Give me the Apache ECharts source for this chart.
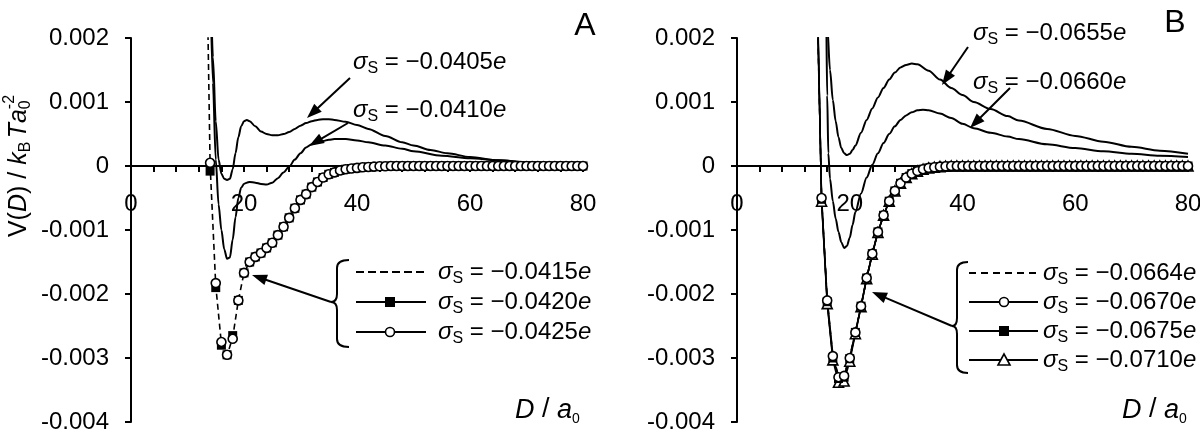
<!DOCTYPE html>
<html><head><meta charset="utf-8">
<script src="https://cdn.jsdelivr.net/npm/echarts@6/dist/echarts.min.js"></script>
<style>html,body{margin:0;padding:0;background:#fff}#c{width:1200px;height:432px}</style>
</head><body><div id="c"></div>
<script>
// ---------- axis / tick data ----------
const X_TICK_LABELS = [0, 20, 40, 60, 80];
const Y_TICK_VALUES = [-0.004, -0.003, -0.002, -0.001, 0, 0.001, 0.002];
const Y_TICK_LABELS = ['-0.004', '-0.003', '-0.002', '-0.001', '0', '0.001', '0.002'];

// ---------- Panel A : solid curves ----------
const A_D_0405 = [14, 14.5, 15, 15.5, 16, 16.5, 17, 17.5, 18, 18.5, 19, 19.5, 20, 20.5, 21, 22, 23, 24, 25, 26, 27, 28, 29, 30, 31, 32, 33, 34, 35, 36, 38, 40, 42, 45, 48, 50, 53, 56, 60, 65, 70, 75, 80];
const A_V_0405 = [0.0034, 0.0017, 0.0007, 0.0001, -0.00012, -0.0002, -0.00022, -0.0002, -0.00005, 0.0002, 0.00045, 0.00062, 0.0007, 0.00072, 0.0007, 0.00062, 0.00054, 0.0005, 0.00048, 0.00048, 0.0005, 0.00053, 0.00058, 0.00063, 0.00067, 0.0007, 0.00072, 0.00073, 0.00073, 0.00072, 0.00069, 0.00064, 0.00058, 0.00047, 0.00037, 0.00032, 0.00025, 0.0002, 0.00014, 0.00009, 0.00006, 0.00004, 0.00003];
const A_D_0410 = [14, 14.5, 15, 15.5, 16, 16.5, 17, 17.5, 18, 18.5, 19, 19.5, 20, 20.5, 21, 22, 23, 24, 25, 26, 27, 28, 29, 30, 31, 32, 33, 34, 35, 36, 38, 40, 42, 45, 48, 50, 55, 60, 65, 70, 75, 80];
const A_V_0410 = [0.003, 0.0013, 0.0001, -0.0006, -0.001, -0.0013, -0.00145, -0.00143, -0.00115, -0.0008, -0.0005, -0.00034, -0.00028, -0.00026, -0.00025, -0.00026, -0.00028, -0.00029, -0.00026, -0.00019, -0.0001, -0.00001, 0.0001, 0.0002, 0.00029, 0.00034, 0.00037, 0.00039, 0.00041, 0.00042, 0.00042, 0.0004, 0.00037, 0.00032, 0.00027, 0.00023, 0.00016, 0.00012, 0.00009, 0.00006, 0.00004, 0.00003];

// ---------- Panel A : point series, D = 13 ... 80 ----------
const A_D_PTS = Array.from({length: 68}, (_, i) => 13 + i);
const A_V_0415 = [0.0055, 0.00002, -0.00187, -0.00278, -0.00296, -0.00268, -0.0021, -0.00167, -0.0015, -0.00142,
  -0.00136, -0.00128, -0.0012, -0.00108, -0.00095, -0.00081, -0.00066, -0.00053, -0.00044, -0.00033,
  -0.00025, -0.00018, -0.00013, -0.0001, -0.00007, -0.00005, -0.00004, -0.00003, -0.00002, -0.000015,
  -0.00001, -0.000005, -0.000005, 0, 0, 0, 0, 0, 0, 0,
  0, 0, 0, 0, 0, 0, 0, 0, 0, 0,
  0, 0, 0, 0, 0, 0, 0, 0, 0, 0,
  0, 0, 0, 0, 0, 0, 0, 0];
const A_V_0420 = [0.006, -0.00008, -0.0019, -0.0028, -0.00295, -0.00265, -0.0021, -0.00167, -0.0015, -0.00142,
  -0.00136, -0.00128, -0.0012, -0.00108, -0.00095, -0.00081, -0.00066, -0.00053, -0.00044, -0.00033,
  -0.00025, -0.00018, -0.00013, -0.0001, -0.00007, -0.00005, -0.00004, -0.00003, -0.00002, -0.000015,
  -0.00001, -0.000005, -0.000005, 0, 0, 0, 0, 0, 0, 0,
  0, 0, 0, 0, 0, 0, 0, 0, 0, 0,
  0, 0, 0, 0, 0, 0, 0, 0, 0, 0,
  0, 0, 0, 0, 0, 0, 0, 0];
const A_V_0425 = [0.006, 0.00005, -0.00183, -0.00275, -0.00295, -0.0027, -0.0021, -0.00167, -0.0015, -0.00142,
  -0.00136, -0.00128, -0.0012, -0.00108, -0.00095, -0.00081, -0.00066, -0.00053, -0.00044, -0.00033,
  -0.00025, -0.00018, -0.00013, -0.0001, -0.00007, -0.00005, -0.00004, -0.00003, -0.00002, -0.000015,
  -0.00001, -0.000005, -0.000005, 0, 0, 0, 0, 0, 0, 0,
  0, 0, 0, 0, 0, 0, 0, 0, 0, 0,
  0, 0, 0, 0, 0, 0, 0, 0, 0, 0,
  0, 0, 0, 0, 0, 0, 0, 0];

// ---------- Panel B : solid curves ----------
const B_D_0655 = [15.5, 16, 16.5, 17, 17.5, 18, 18.5, 19, 19.5, 20, 20.5, 21, 22, 23, 24, 25, 26, 27, 28, 29, 30, 31, 32, 34, 36, 38, 40, 42, 45, 48, 50, 55, 60, 65, 70, 75, 80];
const B_V_0655 = [0.0032, 0.0022, 0.0015, 0.00103, 0.0007, 0.00045, 0.00028, 0.0002, 0.00017, 0.00019, 0.00025, 0.00032, 0.00052, 0.00072, 0.0009, 0.00107, 0.00122, 0.00135, 0.00146, 0.00154, 0.00158, 0.0016, 0.00159, 0.00149, 0.00135, 0.00122, 0.00111, 0.001, 0.00089, 0.00078, 0.00071, 0.00058, 0.00047, 0.00038, 0.0003, 0.00024, 0.00019];
const B_D_0660 = [15.5, 15.8, 16, 16.2, 16.5, 17, 17.5, 18, 18.5, 19, 19.5, 20, 20.5, 21, 22, 23, 24, 25, 26, 27, 28, 29, 30, 31, 32, 33, 34, 36, 38, 40, 42, 45, 48, 50, 55, 60, 65, 70, 75, 80];
const B_V_0660 = [0.0045, 0.0025, 0.0011, 0.0002, -0.0002, -0.00055, -0.00082, -0.00103, -0.00119, -0.00128, -0.00125, -0.00112, -0.00092, -0.00072, -0.00043, -0.00018, 0.00002, 0.0002, 0.00036, 0.0005, 0.00062, 0.00072, 0.00079, 0.00084, 0.00087, 0.00088, 0.00087, 0.00082, 0.00075, 0.00066, 0.00059, 0.00052, 0.00046, 0.00042, 0.00034, 0.00028, 0.00023, 0.00019, 0.00016, 0.00014];

// ---------- Panel B : point series, D = 14 ... 80 ----------
const B_D_PTS = Array.from({length: 67}, (_, i) => 14 + i);
const B_V_0664 = [0.0034, -0.00048, -0.00208, -0.00295, -0.00328, -0.00326, -0.00298, -0.00259, -0.00219, -0.00175,
  -0.00137, -0.00103, -0.00077, -0.00055, -0.00039, -0.00027, -0.00018, -0.00012, -0.00008, -0.00005,
  -0.00003, -0.00002, -0.00001, -0.000005, 0, 0, 0, 0, 0, 0,
  0, 0, 0, 0, 0, 0, 0, 0, 0, 0,
  0, 0, 0, 0, 0, 0, 0, 0, 0, 0,
  0, 0, 0, 0, 0, 0, 0, 0, 0, 0,
  0, 0, 0, 0, 0, 0, 0];
const B_V_0670 = [0.0035, -0.0005, -0.0021, -0.00297, -0.0033, -0.00328, -0.003, -0.0026, -0.00219, -0.00175,
  -0.00137, -0.00103, -0.00077, -0.00055, -0.00039, -0.00027, -0.00018, -0.00012, -0.00008, -0.00005,
  -0.00003, -0.00002, -0.00001, -0.000005, 0, 0, 0, 0, 0, 0,
  0, 0, 0, 0, 0, 0, 0, 0, 0, 0,
  0, 0, 0, 0, 0, 0, 0, 0, 0, 0,
  0, 0, 0, 0, 0, 0, 0, 0, 0, 0,
  0, 0, 0, 0, 0, 0, 0];
const B_V_0675 = [0.0036, -0.00052, -0.00212, -0.003, -0.00332, -0.0033, -0.00301, -0.0026, -0.00219, -0.00175,
  -0.00137, -0.00103, -0.00077, -0.00055, -0.00039, -0.00027, -0.00018, -0.00012, -0.00008, -0.00005,
  -0.00003, -0.00002, -0.00001, -0.000005, 0, 0, 0, 0, 0, 0,
  0, 0, 0, 0, 0, 0, 0, 0, 0, 0,
  0, 0, 0, 0, 0, 0, 0, 0, 0, 0,
  0, 0, 0, 0, 0, 0, 0, 0, 0, 0,
  0, 0, 0, 0, 0, 0, 0];
const B_V_0710 = [0.0038, -0.00055, -0.00215, -0.00303, -0.00338, -0.00336, -0.00305, -0.00262, -0.0022, -0.00176,
  -0.00138, -0.00104, -0.00077, -0.00055, -0.00039, -0.00027, -0.00018, -0.00012, -0.00008, -0.00005,
  -0.00003, -0.00002, -0.00001, -0.000005, 0, 0, 0, 0, 0, 0,
  0, 0, 0, 0, 0, 0, 0, 0, 0, 0,
  0, 0, 0, 0, 0, 0, 0, 0, 0, 0,
  0, 0, 0, 0, 0, 0, 0, 0, 0, 0,
  0, 0, 0, 0, 0, 0, 0];

// ---------- labels ----------
const LABELS_A_TOP = ['−0.0405', '−0.0410'];
const LABELS_A_LEG = ['−0.0415', '−0.0420', '−0.0425'];
const LABELS_B_TOP = ['−0.0655', '−0.0660'];
const LABELS_B_LEG = ['−0.0664', '−0.0670', '−0.0675', '−0.0710'];

// =====================================================================
const FF = '"Liberation Sans", Arial, sans-serif';
const Y_MIN = -0.004, Y_MAX = 0.002;
const BLACK = '#000';
const GRID_TOP = 38, GRID_H = 384;
const FS = 24;

function pts(xs, ys) {
  return xs.map((x, i) => ys[i] > Y_MAX ? {value: [x, ys[i]], symbol: 'none'} : [x, ys[i]]);
}
function curve(xs, ys, ax) {
  return {type: 'line', xAxisIndex: ax, yAxisIndex: ax, data: pts(xs, ys), symbol: 'none', showSymbol: false,
    smooth: 0.3, smoothMonotone: 'x', lineStyle: {color: BLACK, width: 2}, silent: true};
}
function dashed(xs, ys, ax) {
  return {type: 'line', xAxisIndex: ax, yAxisIndex: ax, data: pts(xs, ys), symbol: 'none', showSymbol: false,
    lineStyle: {color: BLACK, width: 1.6, type: [6, 4]}, silent: true};
}
function marks(xs, ys, ax, sym, size, fill, withLine) {
  return {type: 'line', xAxisIndex: ax, yAxisIndex: ax, data: pts(xs, ys), symbol: sym, symbolSize: size, showSymbol: true,
    itemStyle: {color: fill, borderColor: BLACK, borderWidth: fill === BLACK ? 0 : 1.6},
    lineStyle: withLine ? {color: BLACK, width: 1.6} : {color: BLACK, width: 0, opacity: 0}, silent: true};
}

// x axis drawn at the value 0 of the y axis: offset from the grid bottom
const ZERO_OFFSET = -GRID_H * (0 - Y_MIN) / (Y_MAX - Y_MIN);
function xAxis(grid) {
  return {type: 'value', gridIndex: grid, min: 0, max: 80, interval: 4, position: 'bottom', offset: ZERO_OFFSET,
    axisLine: {onZero: false, lineStyle: {color: BLACK, width: 2}},
    axisTick: {length: 6, lineStyle: {color: BLACK, width: 2}},
    axisLabel: {margin: 26, fontSize: FS, fontFamily: FF, color: BLACK, hideOverlap: false,
      formatter: v => X_TICK_LABELS.includes(Math.round(v)) && Math.abs(v - Math.round(v)) < 1e-9 ? String(Math.round(v)) : ''},
    splitLine: {show: false}};
}
function yAxis(grid) {
  return {type: 'value', gridIndex: grid, min: Y_MIN, max: Y_MAX, interval: 0.001,
    axisLine: {show: true, onZero: false, lineStyle: {color: BLACK, width: 2}},
    axisTick: {show: true, length: 6, lineStyle: {color: BLACK, width: 2}},
    axisLabel: {margin: 22, fontSize: FS, fontFamily: FF, color: BLACK,
      formatter: v => { const i = Y_TICK_VALUES.findIndex(t => Math.abs(t - v) < 1e-9); return i >= 0 ? Y_TICK_LABELS[i] : ''; }},
    splitLine: {show: false}};
}

// ---------- graphics helpers ----------
const G = [];
function line(x1, y1, x2, y2, w, dash) {
  G.push({type: 'line', z: 50, silent: true, shape: {x1, y1, x2, y2},
    style: {stroke: BLACK, lineWidth: w || 2, lineDash: dash || null}});
}
function arrow(x1, y1, x2, y2) {
  const a = Math.atan2(y2 - y1, x2 - x1), L = 15, W = 5.5;
  const bx = x2 - L * Math.cos(a), by = y2 - L * Math.sin(a);
  const px = -Math.sin(a) * W, py = Math.cos(a) * W;
  line(x1, y1, bx + Math.cos(a) * 2, by + Math.sin(a) * 2, 2);
  G.push({type: 'polygon', z: 50, silent: true, shape: {points: [[x2, y2], [bx + px, by + py], [bx - px, by - py]]}, style: {fill: BLACK}});
}
function bez(x1, y1, cx, cy, x2, y2) {
  G.push({type: 'bezierCurve', z: 50, silent: true, shape: {x1, y1, cpx1: cx, cpy1: cy, x2, y2}, style: {stroke: BLACK, lineWidth: 2, fill: null}});
}
function brace(xTip, xMid, xCusp, yTop, yCusp, yBot) {
  const r = 8;
  bez(xTip, yTop, xMid, yTop, xMid, yTop + r);
  line(xMid, yTop + r, xMid, yCusp - r, 2);
  bez(xMid, yCusp - r, xMid, yCusp, xCusp, yCusp);
  bez(xCusp, yCusp, xMid, yCusp, xMid, yCusp + r);
  line(xMid, yCusp + r, xMid, yBot - r, 2);
  bez(xMid, yBot - r, xMid, yBot, xTip, yBot);
}
const RICH = {
  s: {fontStyle: 'italic', fontSize: FS, fontFamily: FF, lineHeight: 30, fill: BLACK, color: BLACK},
  n: {fontSize: FS, fontFamily: FF, lineHeight: 30, fill: BLACK, color: BLACK},
  sub: {fontSize: 16, fontFamily: FF, lineHeight: 16, verticalAlign: 'bottom', fill: BLACK, color: BLACK}
};
function sigma(x, y, body) {
  G.push({type: 'text', z: 50, silent: true, x, y,
    style: {text: '{s|σ}{sub|S}{n| = ' + body + '}{s|e}', rich: RICH, fontSize: FS, fontFamily: FF, fill: BLACK,
      align: 'left', verticalAlign: 'middle', textAlign: 'left', textVerticalAlign: 'middle'}});
}
function plain(x, y, t, size, italic, align) {
  G.push({type: 'text', z: 50, silent: true, x, y,
    style: {text: t, fontSize: size, fontStyle: italic ? 'italic' : 'normal', fontFamily: FF, fill: BLACK,
      align: align || 'left', verticalAlign: 'middle', textAlign: align || 'left', textVerticalAlign: 'middle'}});
}
function axisName(x, y) {
  const R = {
    i: {fontStyle: 'italic', fontSize: 27, fontFamily: FF, lineHeight: 32, fill: BLACK, color: BLACK},
    n: {fontSize: 27, fontFamily: FF, lineHeight: 32, fill: BLACK, color: BLACK},
    sub: {fontSize: 14, fontFamily: FF, lineHeight: 14, verticalAlign: 'bottom', fill: BLACK, color: BLACK}
  };
  G.push({type: 'text', z: 50, silent: true, x, y,
    style: {text: '{i|D}{n| / }{i|a}{sub|0}', rich: R, fontSize: 27, fontFamily: FF, fill: BLACK,
      align: 'left', verticalAlign: 'middle', textAlign: 'left', textVerticalAlign: 'middle'}});
}
function yTitle(cx, cy) {
  const ctx = document.createElement('canvas').getContext('2d');
  const M = 25, S = 16;
  const toks = [
    [{t: 'V(', it: 0, s: M, dy: 0}], [{t: 'D', it: 1, s: M, dy: 0}], [{t: ') / ', it: 0, s: M, dy: 0}],
    [{t: 'k', it: 1, s: M, dy: 0}], [{t: 'B', it: 0, s: S, dy: 7}], [{t: ' ', it: 0, s: 12, dy: 0}],
    [{t: 'T', it: 1, s: M, dy: 0}], [{t: 'a', it: 1, s: M, dy: 0}],
    [{t: '-2', it: 0, s: S, dy: -9}, {t: '0', it: 0, s: S, dy: 7}]
  ];
  const w = t => { ctx.font = (t.it ? 'italic ' : '') + t.s + 'px "Liberation Sans"'; return ctx.measureText(t.t).width; };
  let total = 0; toks.forEach(g => total += Math.max(...g.map(w)));
  let x = -total / 2; const children = [];
  toks.forEach(g => {
    g.forEach(t => children.push({type: 'text', silent: true, x, y: t.dy,
      style: {text: t.t, fontSize: t.s, fontStyle: t.it ? 'italic' : 'normal', fontFamily: FF, fill: BLACK,
        align: 'left', verticalAlign: 'middle', textAlign: 'left', textVerticalAlign: 'middle'}}));
    x += Math.max(...g.map(w));
  });
  G.push({type: 'group', x: cx, y: cy, rotation: Math.PI / 2, z: 50, silent: true, children});
}

// ---------- decorations: panel A ----------
yTitle(19, 166);
plain(585, 26, 'A', 32, false, 'center');
plain(1175, 23, 'B', 32, false, 'center');
sigma(353, 62, LABELS_A_TOP[0]);
sigma(353, 110, LABELS_A_TOP[1]);
arrow(350, 78, 307, 118);
arrow(348, 123, 309, 146);
brace(349, 337, 331, 260, 302, 347);
arrow(331, 302, 252, 275);
const A_ROWS = [272, 302, 332];
line(356, A_ROWS[0], 426, A_ROWS[0], 2, [8, 4]);
line(356, A_ROWS[1], 426, A_ROWS[1], 2);
G.push({type: 'rect', z: 51, silent: true, shape: {x: 385, y: A_ROWS[1] - 5, width: 10, height: 10}, style: {fill: BLACK}});
line(356, A_ROWS[2], 426, A_ROWS[2], 2);
G.push({type: 'circle', z: 51, silent: true, shape: {cx: 390, cy: A_ROWS[2], r: 4.5}, style: {fill: '#fff', stroke: BLACK, lineWidth: 1.6}});
LABELS_A_LEG.forEach((t, i) => sigma(438, A_ROWS[i], t));
axisName(515, 410);

// ---------- decorations: panel B ----------
sigma(973, 33, LABELS_B_TOP[0]);
sigma(973, 82, LABELS_B_TOP[1]);
arrow(968, 47, 942, 85);
arrow(1010, 88, 970, 128);
brace(968, 957, 952, 262, 326, 373);
arrow(952, 326, 872, 292);
const B_ROWS = [273, 302, 331, 360];
line(969, B_ROWS[0], 1038, B_ROWS[0], 2, [7, 5]);
line(969, B_ROWS[1], 1038, B_ROWS[1], 2);
G.push({type: 'circle', z: 51, silent: true, shape: {cx: 1004, cy: B_ROWS[1], r: 4.5}, style: {fill: '#fff', stroke: BLACK, lineWidth: 1.6}});
line(969, B_ROWS[2], 1038, B_ROWS[2], 2);
G.push({type: 'rect', z: 51, silent: true, shape: {x: 999, y: B_ROWS[2] - 5, width: 10, height: 10}, style: {fill: BLACK}});
line(969, B_ROWS[3], 1038, B_ROWS[3], 2);
G.push({type: 'polygon', z: 51, silent: true, shape: {points: [[1004, B_ROWS[3] - 6], [998, B_ROWS[3] + 5], [1010, B_ROWS[3] + 5]]}, style: {fill: '#fff', stroke: BLACK, lineWidth: 1.6}});
LABELS_B_LEG.forEach((t, i) => sigma(1043, B_ROWS[i], t));
axisName(1122, 410);

// ---------- chart ----------
const chart = echarts.init(document.getElementById('c'), null, {renderer: 'canvas'});
chart.setOption({
  animation: false,
  backgroundColor: '#fff',
  grid: [
    {left: 131, top: GRID_TOP, width: 452, height: GRID_H, containLabel: false, outerBoundsMode: 'none'},
    {left: 737, top: GRID_TOP, width: 451, height: GRID_H, containLabel: false, outerBoundsMode: 'none'}
  ],
  xAxis: [xAxis(0), xAxis(1)],
  yAxis: [yAxis(0), yAxis(1)],
  series: [
    curve(A_D_0405, A_V_0405, 0),
    curve(A_D_0410, A_V_0410, 0),
    dashed(A_D_PTS, A_V_0415, 0),
    marks(A_D_PTS, A_V_0420, 0, 'rect', 9, BLACK, false),
    marks(A_D_PTS, A_V_0425, 0, 'circle', 9, '#fff', false),
    curve(B_D_0655, B_V_0655, 1),
    curve(B_D_0660, B_V_0660, 1),
    dashed(B_D_PTS, B_V_0664, 1),
    marks(B_D_PTS, B_V_0710, 1, 'triangle', 10, '#fff', true),
    marks(B_D_PTS, B_V_0675, 1, 'rect', 9, BLACK, true),
    marks(B_D_PTS, B_V_0670, 1, 'circle', 9, '#fff', true)
  ],
  graphic: {elements: G}
});
</script>
</body></html>
